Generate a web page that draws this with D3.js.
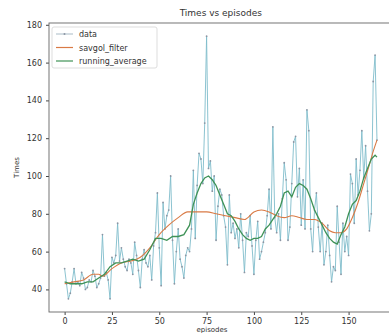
<!DOCTYPE html>
<html>
<head>
<meta charset="utf-8">
<script src="https://cdn.jsdelivr.net/npm/d3@7"></script>
<style>
  body { margin: 0; background: #fff; }
  text { font-family: "DejaVu Sans", sans-serif; fill: #333; }
</style>
</head>
<body>
<script>
// raw episode times, one per episode (0..165)
const times = [
  51, 43, 35, 38, 44, 51, 43, 44, 42, 49, 46, 40, 41, 45, 44, 50, 47, 41, 43, 46,
  69, 47, 49, 45, 35, 57, 54, 58, 75, 55, 62, 56, 52, 50, 56, 54, 48, 65, 58, 50,
  41, 56, 61, 54, 52, 58, 45, 63, 70, 91, 62, 42, 86, 72, 79, 82, 100, 66, 43, 60,
  72, 56, 52, 46, 58, 62, 60, 72, 103, 67, 95, 112, 109, 96, 128, 174, 104, 108, 92, 100,
  66, 84, 93, 90, 79, 73, 53, 90, 70, 75, 67, 72, 62, 80, 66, 49, 70, 68, 79, 63,
  48, 66, 76, 56, 60, 65, 70, 79, 93, 72, 126, 78, 70, 80, 66, 88, 107, 98, 66, 73,
  96, 118, 121, 89, 104, 74, 98, 72, 135, 124, 72, 60, 82, 91, 73, 60, 75, 53, 60, 74,
  58, 44, 52, 50, 84, 65, 48, 75, 60, 68, 58, 101, 96, 75, 109, 90, 103, 124, 99, 116,
  92, 71, 80, 150, 164, 119
]

// savgol_filter curve, read at these episodes
const savgolEp = [0, 5, 10, 15, 18, 20, 25, 30, 35, 40, 45, 50, 55, 60, 65, 70, 75, 80, 85, 90,
  95, 100, 104, 108, 112, 116, 120, 124, 128, 132, 136, 140, 143, 146, 149, 152, 155, 158, 161, 163, 165]
const savgolVal = [43, 44, 45, 48, 48, 47, 51, 54, 55, 57, 62, 69, 74, 78, 81, 81, 81, 80, 79, 78,
  77, 81, 82, 81, 79, 78, 79, 78, 77, 77, 75, 71, 70, 70, 72, 78, 86, 96, 106, 113, 119]

// running_average curve, read at these episodes
const runEp = [0, 3, 6, 9, 12, 15, 18, 21, 24, 27, 30, 33, 36, 39, 42, 45, 48, 51, 54, 57,
  60, 63, 66, 68, 70, 72, 74, 76, 78, 80, 82, 84, 86, 88, 90, 92, 94, 96, 98, 100,
  102, 104, 106, 108, 110, 112, 114, 116, 118, 120, 122, 124, 126, 128, 130, 132, 134, 136, 138, 140,
  142, 144, 146, 148, 150, 152, 154, 156, 158, 160, 162, 164, 165]
const runVal = [44, 43, 43, 43, 44, 44, 46, 48, 52, 54, 54, 55, 56, 55, 56, 61, 67, 67, 66, 68,
  68, 69, 74, 85, 91, 96, 99, 100, 98, 95, 90, 85, 80, 79, 76, 72, 69, 67, 66, 67,
  67, 68, 72, 74, 77, 80, 84, 91, 92, 89, 94, 96, 95, 93, 88, 82, 78, 74, 70, 67,
  65, 64, 69, 73, 80, 85, 87, 92, 99, 104, 109, 111, 110]

const xTicks = [0, 25, 50, 75, 100, 125, 150]
const yTicks = [40, 60, 80, 100, 120, 140, 160, 180]
const legendNames = ['data', 'savgol_filter', 'running_average']
const colors = { data: '#7fbccb', savgol: '#d97a45', run: '#3f9257' }

const width = 389, height = 333
const margin = { top: 23, left: 49, bottom: 21 }
const plotW = 343.6
const plotH = height - margin.top - margin.bottom

const svg = d3.select('body').append('svg')
    .attr('width', width)
    .attr('height', height)

const n = times.length
const xPad = (n - 1) * 0.05
const x = d3.scaleLinear()
    .domain([-xPad, n - 1 + xPad])
    .range([margin.left, margin.left + plotW])

const yMin = d3.min(times), yMax = d3.max(times)
const yPad = (yMax - yMin) * 0.05
const y = d3.scaleLinear()
    .domain([yMin - yPad, yMax + yPad])
    .range([margin.top + plotH, margin.top])

// axes
svg.append('g')
    .attr('transform', `translate(0,${margin.top + plotH})`)
    .call(d3.axisBottom(x).tickValues(xTicks).tickSize(3).tickPadding(3))
    .call(g => g.select('.domain').remove())
    .call(g => g.selectAll('text').style('font-size', '8px'))
    .call(g => g.selectAll('line').attr('stroke', '#444'))

svg.append('g')
    .attr('transform', `translate(${margin.left},0)`)
    .call(d3.axisLeft(y).tickValues(yTicks).tickSize(3).tickPadding(4))
    .call(g => g.select('.domain').remove())
    .call(g => g.selectAll('text').style('font-size', '8px'))
    .call(g => g.selectAll('line').attr('stroke', '#444'))

svg.append('rect')
    .attr('x', margin.left)
    .attr('y', margin.top)
    .attr('width', plotW)
    .attr('height', plotH)
    .attr('fill', 'none')
    .attr('stroke', '#666')
    .attr('stroke-width', 0.9)

// data line + markers
const line = d3.line()
    .x(d => x(d[0]))
    .y(d => y(d[1]))

const dataPts = times.map((v, i) => [i, v])
svg.append('path')
    .datum(dataPts)
    .attr('d', line)
    .attr('fill', 'none')
    .attr('stroke', colors.data)
    .attr('stroke-width', 0.9)

svg.selectAll('circle.pt')
    .data(dataPts)
    .enter()
    .append('circle')
    .attr('class', 'pt')
    .attr('cx', d => x(d[0]))
    .attr('cy', d => y(d[1]))
    .attr('r', 0.9)
    .attr('fill', '#8c95a3')

svg.append('path')
    .datum(savgolEp.map((e, i) => [e, savgolVal[i]]))
    .attr('d', line.curve(d3.curveMonotoneX))
    .attr('fill', 'none')
    .attr('stroke', colors.savgol)
    .attr('stroke-width', 1.1)

svg.append('path')
    .datum(runEp.map((e, i) => [e, runVal[i]]))
    .attr('d', d3.line().x(d => x(d[0])).y(d => y(d[1])))
    .attr('fill', 'none')
    .attr('stroke', colors.run)
    .attr('stroke-width', 1.3)

// title and labels
svg.append('text')
    .attr('x', margin.left + plotW / 2)
    .attr('y', 16)
    .attr('text-anchor', 'middle')
    .style('font-size', '9px')
    .text('Times vs episodes')

svg.append('text')
    .attr('transform', `translate(19,${margin.top + plotH / 2}) rotate(-90)`)
    .attr('text-anchor', 'middle')
    .style('font-size', '7px')
    .text('Times')

svg.append('text')
    .attr('x', 212)
    .attr('y', 332)
    .attr('text-anchor', 'middle')
    .style('font-size', '7px')
    .text('episodes')

// legend
const legend = svg.append('g').attr('transform', 'translate(52,27)')
legend.append('rect')
    .attr('width', 105)
    .attr('height', 41)
    .attr('rx', 2)
    .attr('fill', '#fff')
    .attr('fill-opacity', 0.85)
    .attr('stroke', '#ddd')

const legColors = [colors.data, colors.savgol, colors.run]
legendNames.forEach((name, i) => {
    const ly = 7 + i * 13.5
    legend.append('line')
        .attr('x1', 4).attr('x2', 21)
        .attr('y1', ly).attr('y2', ly)
        .attr('stroke', i === 0 ? '#9fb3c0' : legColors[i])
        .attr('stroke-width', i === 0 ? 0.9 : 1.2)
    if (i === 0) {
        legend.append('circle')
            .attr('cx', 12.5).attr('cy', ly).attr('r', 1)
            .attr('fill', '#8c95a3')
    }
    legend.append('text')
        .attr('x', 27)
        .attr('y', ly + 3)
        .style('font-size', '8px')
        .text(name)
})
</script>
</body>
</html>
